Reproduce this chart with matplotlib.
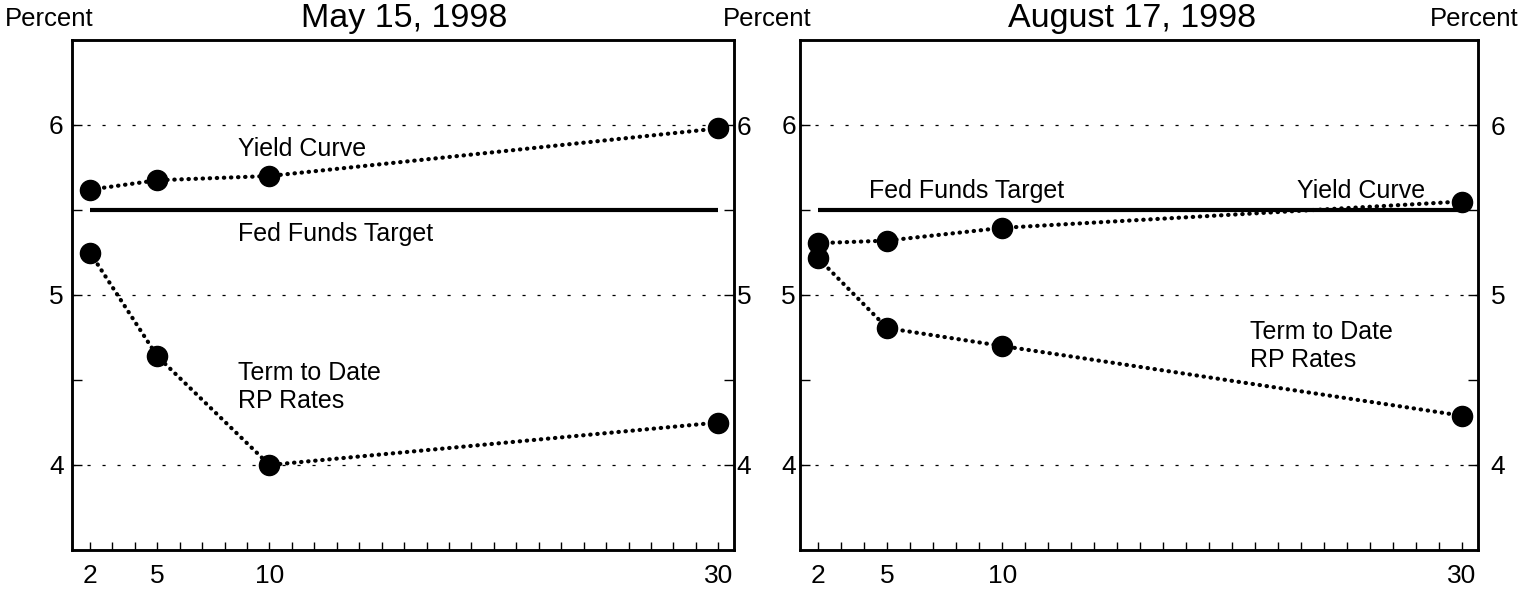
import matplotlib
matplotlib.use("Agg")
import matplotlib.pyplot as plt
from matplotlib.ticker import FixedLocator

plt.rcParams['font.family'] = ['Liberation Sans', 'DejaVu Sans']

# ---- dados ----
maturities = [2, 5, 10, 30]
x_labels = ['2', '5', '10', '30']
y_ticks = [4, 5, 6]
fed_target = 5.5

may_yield = [5.62, 5.675, 5.70, 5.98]
may_rp = [5.25, 4.64, 4.00, 4.25]

aug_yield = [5.305, 5.32, 5.395, 5.55]
aug_rp = [5.215, 4.805, 4.70, 4.29]

W, H = 1522, 593
fig = plt.figure(figsize=(W / 100, H / 100), dpi=100)


def px_box(x0, x1, y0, y1):
    # caixa em pixels (origem no topo) -> fracao da figura
    return [x0 / W, 1 - y1 / H, (x1 - x0) / W, (y1 - y0) / H]


def style(ax, pad_left, pad_right):
    ax.set_xlim(1.2, 30.7)
    ax.set_ylim(3.5, 6.5)
    ax.set_xticks(maturities)
    ax.set_xticklabels(x_labels)
    ax.xaxis.set_minor_locator(FixedLocator(range(2, 31)))
    ax.set_yticks(y_ticks)
    ax.yaxis.set_minor_locator(FixedLocator([4.5, 5.5]))
    ax.tick_params(axis='x', which='both', direction='in', length=6, width=1,
                   labelsize=19, pad=10)
    ax.tick_params(axis='y', which='both', direction='in', length=7, width=1,
                   labelsize=19, pad=pad_left, left=True, right=True)
    for sp in ax.spines.values():
        sp.set_linewidth(1.8)
    ax.grid(axis='y', which='major', color='black',
            linestyle=(0, (2.5, 9.5)), linewidth=0.9)

    # rotulos do lado direito com outro espacamento
    axr = ax.twinx()
    axr.set_ylim(ax.get_ylim())
    axr.set_yticks(y_ticks)
    axr.yaxis.set_minor_locator(FixedLocator([4.5, 5.5]))
    axr.tick_params(axis='y', which='both', direction='in', length=7, width=1,
                    labelsize=19, pad=pad_right)
    for sp in axr.spines.values():
        sp.set_linewidth(1.8)


def draw(ax, yields, rp):
    ax.hlines(fed_target, maturities[0], maturities[-1], color='black', lw=3)
    for serie in (yields, rp):
        ax.plot(maturities, serie, color='black', lw=3,
                linestyle=(0, (0.1, 1.6)), dash_capstyle='round',
                marker='o', markersize=14.5, zorder=3)


ax1 = fig.add_axes(px_box(72, 734, 40, 550))
ax2 = fig.add_axes(px_box(800, 1478, 40, 550))

style(ax1, 6, 2)
style(ax2, 3, 9)

draw(ax1, may_yield, may_rp)
draw(ax2, aug_yield, aug_rp)

# ---- textos de cada painel ----
ax1.text(8.6, 5.86, 'Yield Curve', fontsize=18, va='center', ha='left')
ax1.text(8.6, 5.36, 'Fed Funds Target', fontsize=18, va='center', ha='left')
ax1.text(8.6, 4.46, 'Term to Date\nRP Rates', fontsize=18, va='center',
         ha='left', linespacing=1.2)

ax2.text(4.2, 5.61, 'Fed Funds Target', fontsize=18, va='center', ha='left')
ax2.text(28.4, 5.61, 'Yield Curve', fontsize=18, va='center', ha='right')
ax2.text(20.8, 4.70, 'Term to Date\nRP Rates', fontsize=18, va='center',
         ha='left', linespacing=1.2)

# ---- titulos e "Percent" ----
fig.text(404 / W, 1 - 27 / H, 'May 15, 1998', fontsize=24.5, ha='center', va='baseline')
fig.text(1132 / W, 1 - 27 / H, 'August 17, 1998', fontsize=24.5, ha='center', va='baseline')
fig.text(5 / W, 1 - 26 / H, 'Percent', fontsize=18.5, ha='left', va='baseline')
fig.text(767 / W, 1 - 26 / H, 'Percent', fontsize=18.5, ha='center', va='baseline')
fig.text(1518 / W, 1 - 26 / H, 'Percent', fontsize=18.5, ha='right', va='baseline')

fig.savefig('out.png', dpi=100)
